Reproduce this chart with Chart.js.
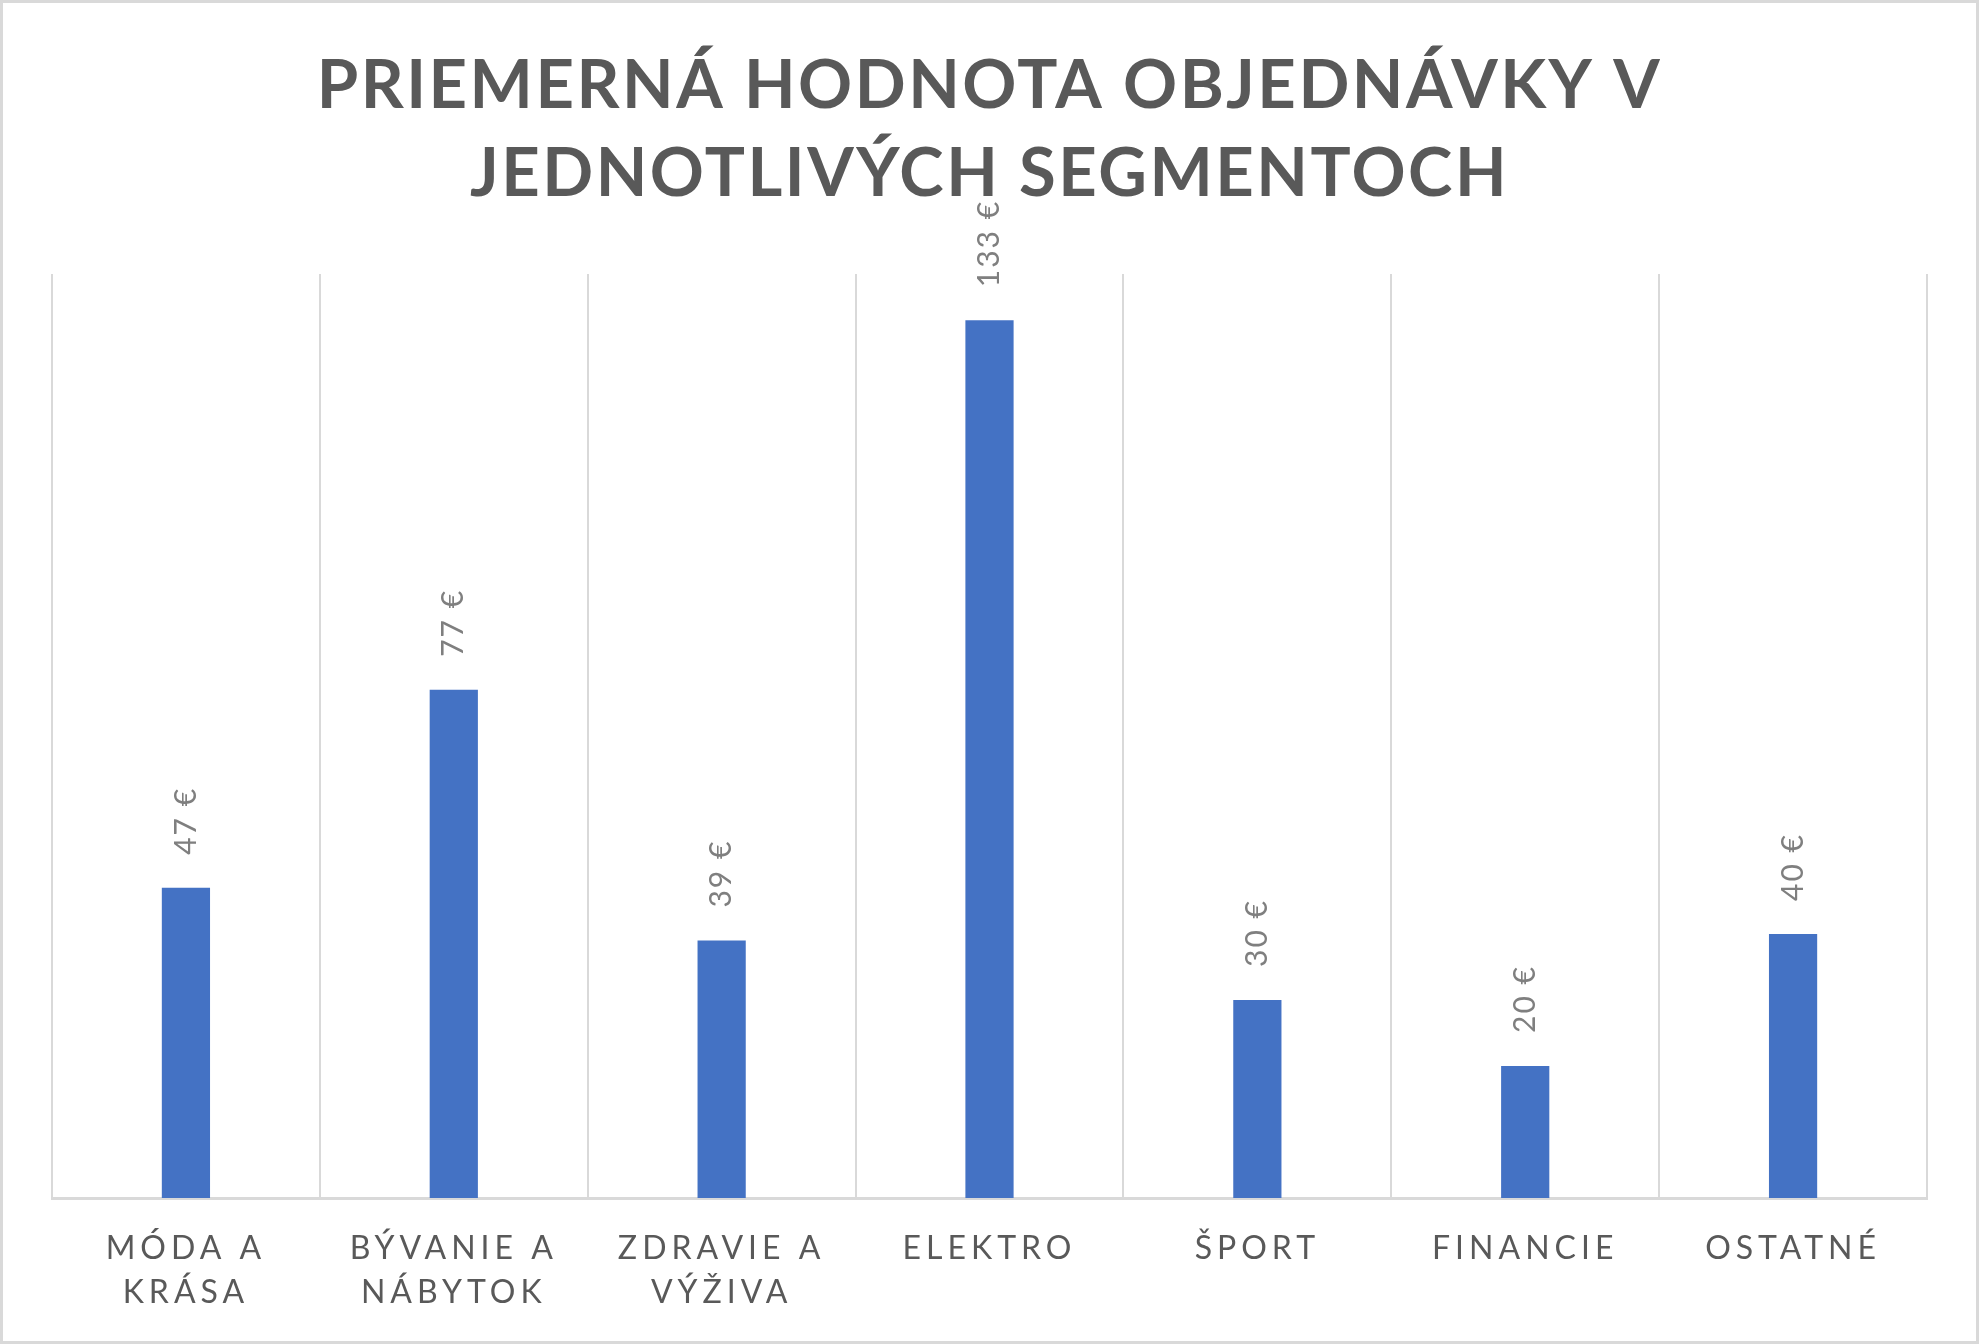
<!DOCTYPE html>
<html>
<head>
<meta charset="utf-8">
<script src="https://cdn.jsdelivr.net/npm/chart.js@4/dist/chart.umd.min.js"></script>
<style>
  html, body { margin: 0; padding: 0; background: #fff; }
  #wrap { width: 1979px; height: 1344px; position: relative; }
</style>
</head>
<body>
<div id="wrap"><canvas id="myChart" width="1979" height="1344"></canvas></div>
<script>
(function () {
  "use strict";

  // data
  const chartTitle = ["PRIEMERNÁ HODNOTA OBJEDNÁVKY V", "JEDNOTLIVÝCH SEGMENTOCH"];
  const categories = [
    ["MÓDA A", "KRÁSA"],
    ["BÝVANIE A", "NÁBYTOK"],
    ["ZDRAVIE A", "VÝŽIVA"],
    "ELEKTRO",
    "ŠPORT",
    "FINANCIE",
    "OSTATNÉ",
  ];
  const values = [47, 77, 39, 133, 30, 20, 40];
  const currency = "€";

  const FONT = "Lato";

  // white background + outer border
  const frame = {
    id: "frame",
    beforeDraw(chart) {
      const ctx = chart.ctx;
      ctx.save();
      ctx.fillStyle = "#ffffff";
      ctx.fillRect(0, 0, chart.width, chart.height);
      ctx.strokeStyle = "#d9d9d9";
      ctx.lineWidth = 3;
      ctx.strokeRect(1.5, 1.5, chart.width - 3, chart.height - 3);
      ctx.restore();
    },
  };

  // letter spacing for title and x labels
  const spacing = {
    id: "spacing",
    beforeDraw(chart) {
      const ctx = chart.ctx;
      const t = chart.titleBlock;
      if (t && !t._spaced) {
        const d = t.draw;
        t.draw = function (a) {
          ctx.save();
          ctx.letterSpacing = "2.5px";
          d.call(this, a);
          ctx.restore();
        };
        t._spaced = true;
      }
      const x = chart.scales.x;
      if (x && !x._spaced) {
        const dl = x.drawLabels;
        x.drawLabels = function (a) {
          ctx.save();
          ctx.letterSpacing = "5px";
          dl.call(this, a);
          ctx.restore();
        };
        x._spaced = true;
      }
    },
  };

  // rotated value labels above bars
  const valueLabels = {
    id: "valueLabels",
    afterDatasetsDraw(chart) {
      const ctx = chart.ctx;
      const meta = chart.getDatasetMeta(0);
      ctx.save();
      ctx.font = "30px " + FONT;
      ctx.fillStyle = "#7f7f7f";
      ctx.letterSpacing = "2px";
      ctx.textAlign = "left";
      ctx.textBaseline = "middle";
      meta.data.forEach((bar, i) => {
        ctx.save();
        ctx.translate(bar.x, bar.y - 33);
        ctx.rotate(-Math.PI / 2);
        ctx.fillText(values[i] + " " + currency, 0, 0);
        ctx.restore();
      });
      ctx.restore();
    },
  };

  const ctx = document.getElementById("myChart");

  new Chart(ctx, {
    type: "bar",
    data: {
      labels: categories,
      datasets: [
        {
          label: "",
          data: values,
          backgroundColor: "#4472c4",
          borderWidth: 0,
          categoryPercentage: 1,
          barPercentage: 0.18,
        },
      ],
    },
    options: {
      responsive: false,
      animation: false,
      layout: {
        padding: { left: 52, right: 52, top: 0, bottom: 0 },
      },
      plugins: {
        legend: { display: false },
        tooltip: { enabled: false },
        title: {
          display: true,
          text: chartTitle,
          color: "#595959",
          font: { family: FONT, size: 67, weight: "bold", lineHeight: 88 / 67 },
          padding: { top: 42, bottom: 56 },
        },
      },
      scales: {
        x: {
          grid: {
            display: true,
            offset: true,
            color: "#d9d9d9",
            lineWidth: 2,
            drawTicks: false,
          },
          border: { display: true, color: "#d9d9d9", width: 3 },
          ticks: {
            color: "#595959",
            font: { family: FONT, size: 32, lineHeight: 44 / 32 },
            padding: 29,
            maxRotation: 0,
            autoSkip: false,
          },
          afterFit(scale) {
            scale.height = 146;
          },
        },
        y: {
          display: false,
          min: 0,
          max: 140,
        },
      },
    },
    plugins: [frame, spacing, valueLabels],
  });
})();
</script>
</body>
</html>
